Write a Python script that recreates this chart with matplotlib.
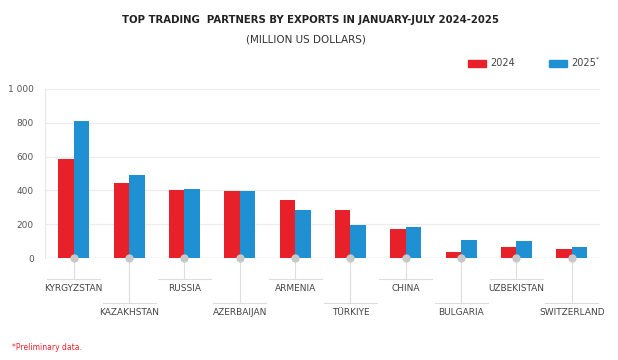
import matplotlib as mpl
import matplotlib.pyplot as plt
import matplotlib.transforms as mtransforms
import numpy as np
mpl.use('Agg')

countries = ['KYRGYZSTAN', 'KAZAKHSTAN', 'RUSSIA', 'AZERBAIJAN', 'ARMENIA',
             'TÜRKIYE', 'CHINA', 'BULGARIA', 'UZBEKISTAN', 'SWITZERLAND']
exp_2024 = [584, 442, 400, 396, 343, 284, 170, 37, 63, 55]
exp_2025 = [812, 491, 408, 397, 284, 193, 182, 105, 99, 63]
yticks = [0, 200, 400, 600, 800, 1000]
ytick_labels = ['0', '200', '400', '600', '800', '1 000']

red = '#e8202a'
blue = '#1f90d2'
grey = '#c8c8c8'

plt.rcParams['font.family'] = ['Liberation Sans Narrow', 'DejaVu Sans']

fig = plt.figure(figsize=(6.18, 3.6), dpi=100)
ax = fig.add_axes([45/618, 1-258/360, 555/618, 169/360])

x = np.arange(len(countries))
w = 0.28
ax.bar(x - w/2, exp_2024, w, color=red, zorder=3)
ax.bar(x + w/2, exp_2025, w, color=blue, zorder=3)

ax.set_xlim(-0.52, 9.51)
ax.set_ylim(0, 1000)
ax.set_yticks(yticks)
ax.set_yticklabels(ytick_labels, fontsize=6.5, color='#555555')
ax.tick_params(axis='y', length=0, pad=8)
ax.set_xticks([])
ax.grid(axis='y', color='#ececec', linewidth=0.8, zorder=0)
for s in ['top', 'right', 'bottom']:
    ax.spines[s].set_visible(False)
ax.spines['left'].set_color('#e6e6e6')
ax.axhline(0, color='#d0d0d0', linewidth=0.9, zorder=2)

# connector markers and labels below the axis
trans = mtransforms.blended_transform_factory(ax.transData, ax.transAxes)
for i, name in enumerate(countries):
    line_y = -0.124 if i % 2 == 0 else -0.266
    text_y = -0.178 if i % 2 == 0 else -0.325
    ax.plot([i, i], [0, line_y], transform=trans, color='#dddddd',
            linewidth=0.8, clip_on=False, zorder=1)
    ax.plot([i - 0.48, i + 0.48], [line_y, line_y], transform=trans,
            color='#dddddd', linewidth=0.8, clip_on=False, zorder=1)
    ax.plot([i], [0], marker='o', markersize=6, color=grey,
            markeredgewidth=0, transform=trans, clip_on=False, zorder=4)
    ax.text(i, text_y, name, transform=trans, ha='center', va='center',
            fontsize=6.5, color='#444444')

fig.text(310/618, 1-20/360, 'TOP TRADING  PARTNERS BY EXPORTS IN JANUARY-JULY 2024-2025',
         ha='center', va='center', fontsize=7.3, fontweight='bold', color='#222222')
fig.text(306/618, 1-39/360, '(MILLION US DOLLARS)',
         ha='center', va='center', fontsize=7.5, color='#333333')

# legend
for px, col, lab in [(468, red, '2024'), (549, blue, '2025')]:
    fig.patches.append(mpl.patches.Rectangle((px/618, 1-67/360), 18/618, 7/360,
                                             transform=fig.transFigure, color=col))
    fig.text((px + 22)/618, 1-63.5/360, lab, ha='left', va='center',
             fontsize=7, color='#444444')
fig.text(596/618, 1-59/360, '*', ha='left', va='center', fontsize=4.5, color='#444444')

fig.text(12/618, 1-347/360, '*Preliminary data.', ha='left', va='center',
         fontsize=5.5, color=red)

fig.savefig('out.png', dpi=100, facecolor='white')
